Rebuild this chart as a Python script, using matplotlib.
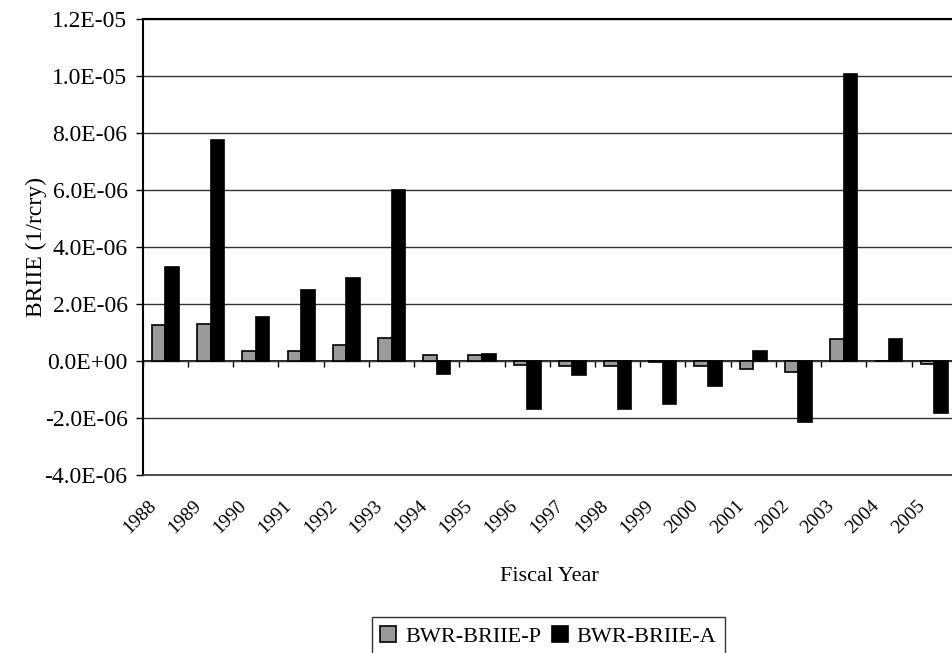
import numpy as np
import matplotlib.pyplot as plt
from matplotlib.ticker import FuncFormatter
from matplotlib.transforms import ScaledTranslation

# %% data
years = ['1988', '1989', '1990', '1991', '1992', '1993', '1994', '1995', '1996',
         '1997', '1998', '1999', '2000', '2001', '2002', '2003', '2004', '2005']
briie_p = [1.25e-6, 1.3e-6, 0.35e-6, 0.35e-6, 0.55e-6, 0.8e-6, 0.2e-6, 0.2e-6, -0.15e-6,
           -0.2e-6, -0.2e-6, -0.05e-6, -0.2e-6, -0.3e-6, -0.4e-6, 0.75e-6, 0.0, -0.1e-6]
briie_a = [3.3e-6, 7.75e-6, 1.55e-6, 2.5e-6, 2.9e-6, 6.0e-6, -0.45e-6, 0.25e-6, -1.7e-6,
           -0.5e-6, -1.7e-6, -1.5e-6, -0.9e-6, 0.35e-6, -2.15e-6, 10.05e-6, 0.75e-6, -1.85e-6]
series_names = ['BWR-BRIIE-P', 'BWR-BRIIE-A']

plt.rcParams['font.family'] = ['Liberation Serif', 'DejaVu Serif']

fig = plt.figure(figsize=(9.52, 6.53), dpi=100)
ax = fig.add_axes([0.150, 0.273, 0.855, 0.698])

x = np.arange(len(years))
w = 0.3
ax.bar(x - w / 2, briie_p, w, color='#9a9a9a', edgecolor='black', linewidth=1.2,
       label=series_names[0], zorder=3)
ax.bar(x + w / 2, briie_a, w, color='black', edgecolor='black', linewidth=1.2,
       label=series_names[1], zorder=3)

# %% axes
ymin, ymax = -4e-6, 1.2e-5
ax.set_ylim(ymin, ymax)
ax.set_xlim(-0.5, len(years) - 0.5)
ax.set_yticks(np.arange(ymin, ymax + 1e-7, 2e-6))
ax.yaxis.set_major_formatter(FuncFormatter(
    lambda v, p: '0.0E+00' if abs(v) < 1e-12 else '%.1E' % v))
ax.tick_params(axis='y', labelsize=17, length=5, width=1, pad=6)
ax.grid(axis='y', color='#333333', linewidth=1, zorder=0)
for s in ['top', 'left']:
    ax.spines[s].set_linewidth(1.5)
ax.spines['bottom'].set_linewidth(1.2)
ax.spines['bottom'].set_color('#333333')
ax.spines['right'].set_visible(False)

ax.set_xticks(x)
ax.set_xticklabels(years, rotation=45, ha='right', rotation_mode='anchor', fontsize=14)
ax.tick_params(axis='x', length=0, pad=16)
shift = ScaledTranslation(-0.18, 0, fig.dpi_scale_trans)
for lab in ax.get_xticklabels():
    lab.set_transform(lab.get_transform() + shift)

# category axis at zero with ticks between groups
zero_frac = (0 - ymin) / (ymax - ymin)
sec = ax.secondary_xaxis(zero_frac)
sec.set_xticks(np.arange(len(years) + 1) - 0.5)
sec.set_xticklabels([])
sec.tick_params(length=4, width=1, direction='out')
sec.spines['bottom'].set_linewidth(1.2)

ax.set_ylabel('BRIIE (1/rcry)', fontsize=17, labelpad=-2)
ax.set_xlabel('Fiscal Year', fontsize=16, labelpad=22)

leg = fig.legend(loc='upper center', bbox_to_anchor=(0.576, 0.072), ncol=2, fontsize=16,
                 frameon=True, fancybox=False, edgecolor='black', handlelength=0.7,
                 handleheight=0.7, handletextpad=0.4, columnspacing=0.5, borderpad=0.4)
leg.get_frame().set_linewidth(1)

fig.savefig('out.png', dpi=100)
